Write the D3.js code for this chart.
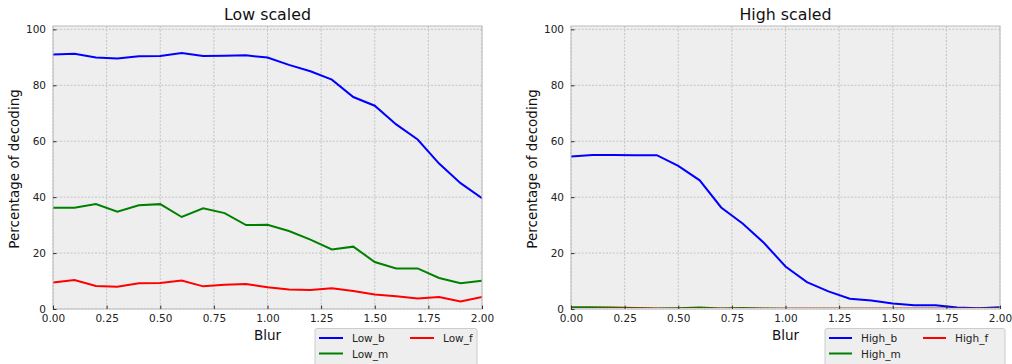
<!DOCTYPE html>
<html><head><meta charset="utf-8">
<script src="https://cdn.jsdelivr.net/npm/d3@7"></script>
<style>
body{margin:0;background:#fff;}
svg{font-family:"DejaVu Sans",sans-serif;}
</style></head><body>
<svg id="c" width="1012" height="364"></svg>
<script>
const blur = [0,0.1,0.2,0.3,0.4,0.5,0.6,0.7,0.8,0.9,1.0,1.1,1.2,1.3,1.4,1.5,1.6,1.7,1.8,1.9,2.0];
const lowB = [91.0,91.3,89.9,89.6,90.4,90.5,91.5,90.5,90.6,90.7,89.9,87.3,85.0,82.0,75.8,72.7,66.0,60.6,52.0,45.0,39.6];
const lowM = [36.2,36.2,37.5,34.8,37.1,37.5,32.9,36.0,34.3,30.0,30.1,27.9,24.8,21.3,22.3,16.8,14.5,14.5,11.1,9.2,10.1];
const lowF = [9.5,10.4,8.2,8.0,9.2,9.3,10.2,8.1,8.7,8.9,7.8,7.0,6.8,7.4,6.4,5.2,4.6,3.8,4.3,2.7,4.3];
const highB = [54.5,55.1,55.1,55.0,55.0,51.2,46.0,36.3,30.6,23.6,15.2,9.6,6.3,3.7,3.0,2.0,1.3,1.3,0.5,0.3,0.6];
const highM = [0.6,0.6,0.5,0.4,0.2,0.3,0.5,0.2,0.4,0.2,0.1,0.1,0.1,0.1,0.1,0.1,0.1,0.1,0.1,0.1,0.2];
const highF = [0.1,0.1,0.2,0.2,0.1,0.1,0.1,0.1,0.1,0.1,0.1,0.1,0.1,0.1,0.1,0.1,0.1,0.1,0.1,0.1,0.1];
const xTicks = [0,0.25,0.5,0.75,1.0,1.25,1.5,1.75,2.0];
const yTicks = [0,20,40,60,80,100];
const colors = ["#0000ff","#008000","#ff0000"];

const svg = d3.select("#c");

function panel(left, right, title, series){
  const top = 26, bottom = 309;
  const x = d3.scaleLinear().domain([0,2]).range([left,right]);
  const y = d3.scaleLinear().domain([0,101.2]).range([bottom,top]);
  const g = svg.append("g");
  g.append("rect").attr("x",left).attr("y",top).attr("width",right-left).attr("height",bottom-top).attr("fill","#eeeeee");
  g.selectAll(".gx").data(xTicks).join("line").attr("x1",d=>x(d)).attr("x2",d=>x(d)).attr("y1",top).attr("y2",bottom)
    .attr("stroke","#b2b2b2").attr("stroke-width",0.7).attr("stroke-dasharray","2,1.5");
  g.selectAll(".gy").data(yTicks).join("line").attr("y1",d=>y(d)).attr("y2",d=>y(d)).attr("x1",left).attr("x2",right)
    .attr("stroke","#b2b2b2").attr("stroke-width",0.7).attr("stroke-dasharray","2,1.5");
  const line = d3.line().x((d,i)=>x(blur[i])).y(d=>y(d));
  const clip = "clip"+left;
  svg.append("clipPath").attr("id",clip).append("rect").attr("x",left).attr("y",top-2).attr("width",right-left).attr("height",bottom-top+1);
  series.forEach((s,k)=>{
    g.append("path").datum(s).attr("d",line).attr("fill","none").attr("stroke",colors[k]).attr("stroke-width",2)
      .attr("clip-path","url(#"+clip+")");
  });
  g.append("rect").attr("x",left).attr("y",top).attr("width",right-left).attr("height",bottom-top)
    .attr("fill","none").attr("stroke","#bcbcbc").attr("stroke-width",1);
  const xa = g.append("g").attr("transform",`translate(0,${bottom})`)
    .call(d3.axisBottom(x).tickValues(xTicks).tickFormat(d3.format(".2f")).tickSizeInner(-3.5).tickSizeOuter(0).tickPadding(7));
  const ya = g.append("g").attr("transform",`translate(${left},0)`)
    .call(d3.axisLeft(y).tickValues(yTicks).tickSizeInner(-3.5).tickSizeOuter(0).tickPadding(7));
  [xa,ya].forEach(a=>{
    a.select(".domain").remove();
    a.selectAll("line").attr("stroke","#333");
    a.selectAll("text").attr("fill","#222").attr("font-size",10.5).attr("font-family","DejaVu Sans");
  });
  xa.selectAll("text").attr("dy","0.55em");
  const cx = (left+right)/2;
  g.append("text").attr("x",cx).attr("y",20).attr("text-anchor","middle").attr("font-size",15.8).attr("fill","#111").text(title);
  g.append("text").attr("x",cx).attr("y",340).attr("text-anchor","middle").attr("font-size",13.5).attr("fill","#111").text("Blur");
  g.append("text").attr("transform",`translate(${left-34.5},${(top+bottom)/2+1.5}) rotate(-90)`).attr("text-anchor","middle")
    .attr("font-size",13.5).attr("fill","#111").text("Percentage of decoding");
}

function legend(bx, bw, names, lineW, col2){
  const g = svg.append("g");
  g.append("rect").attr("x",bx).attr("y",328.5).attr("width",bw).attr("height",44).attr("rx",2)
    .attr("fill","#eeeeee").attr("stroke","#cccccc").attr("stroke-width",1);
  const pos = [[0,0],[0,1],[1,0]];
  names.forEach((n,k)=>{
    const [c,r] = pos[k];
    const lx = bx + 4 + c*col2;
    const ly = 338 + r*15.5;
    g.append("line").attr("x1",lx).attr("x2",lx+lineW).attr("y1",ly).attr("y2",ly).attr("stroke",colors[k]).attr("stroke-width",2);
    g.append("text").attr("x",lx+lineW+9).attr("y",ly+4).attr("font-size",10.5).attr("fill","#222").text(n);
  });
}

panel(53, 482, "Low scaled", [lowB,lowM,lowF]);
panel(571, 1000, "High scaled", [highB,highM,highF]);
legend(315, 162, ["Low_b","Low_m","Low_f"], 24, 91);
legend(825, 180, ["High_b","High_m","High_f"], 23, 94);
</script>
</body></html>
